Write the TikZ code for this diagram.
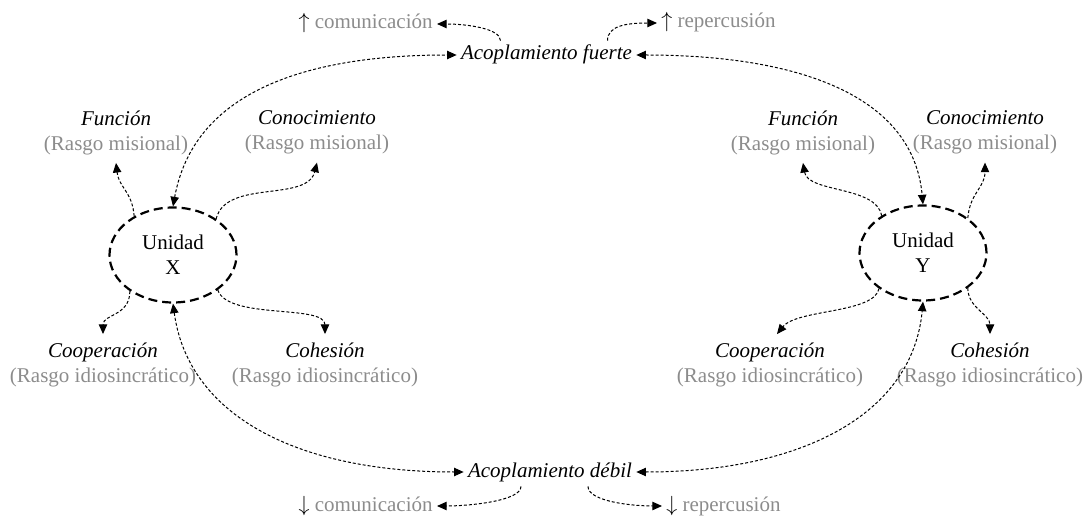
\documentclass[tikz,border=0pt]{standalone}
\usepackage{fontspec}
\setmainfont{Liberation Serif}
\usetikzlibrary{shapes.geometric,arrows.meta}
\definecolor{txtgray}{RGB}{140,140,140}
\begin{document}
\begin{tikzpicture}[x=0.5pt,y=-0.5pt,
  font=\fontsize{10.5}{12.5}\selectfont,
  conn/.style={line width=0.5pt, dash pattern=on 1.5pt off 1pt, -{Triangle[length=4.8pt,width=4.2pt]}},
  both/.style={line width=0.5pt, dash pattern=on 1.5pt off 1pt, {Triangle[length=4.8pt,width=4.2pt]}-{Triangle[length=4.8pt,width=4.2pt]}},
  unit/.style={ellipse, draw, line width=1.1pt, dash pattern=on 4.5pt off 2.5pt, minimum width=63.5pt, minimum height=47.5pt, inner sep=0pt, align=center},
  trait/.style={align=center, inner sep=4pt},
  lbl/.style={inner sep=2pt, text height=0.75em, text depth=0.25em}]
\useasboundingbox (0,0) rectangle (1087,518);

% units
\node[unit] (X) at (173,255) {Unidad\\X};
\node[unit] (Y) at (923,253) {Unidad\\Y};

% coupling labels
\node[lbl] (fu) at (546.5,55) {\textit{Acoplamiento fuerte}};
\node[lbl] (de) at (550,472) {\textit{Acoplamiento débil}};
\node[lbl,anchor=east] (uc) at (437,24) {$\uparrow$ \textcolor{txtgray}{comunicación}};
\node[lbl,anchor=west] (ur) at (657,23) {$\uparrow$ \textcolor{txtgray}{repercusión}};
\node[lbl,anchor=east] (dc) at (437,506) {$\downarrow$ \textcolor{txtgray}{comunicación}};
\node[lbl,anchor=west] (dr) at (662,506) {$\downarrow$ \textcolor{txtgray}{repercusión}};

% traits X
\node[trait] (xf) at (116,132.5) {\textit{Función}\\\textcolor{txtgray}{(Rasgo misional)}};
\node[trait] (xk) at (317,132.5) {\textit{Conocimiento}\\\textcolor{txtgray}{(Rasgo misional)}};
\node[trait] (xo) at (103,364.5) {\textit{Cooperación}\\\textcolor{txtgray}{(Rasgo idiosincrático)}};
\node[trait] (xh) at (325,364.5) {\textit{Cohesión}\\\textcolor{txtgray}{(Rasgo idiosincrático)}};
% traits Y
\node[trait] (yf) at (803,132.5) {\textit{Función}\\\textcolor{txtgray}{(Rasgo misional)}};
\node[trait] (yk) at (985,132.5) {\textit{Conocimiento}\\\textcolor{txtgray}{(Rasgo misional)}};
\node[trait] (yo) at (770,364.5) {\textit{Cooperación}\\\textcolor{txtgray}{(Rasgo idiosincrático)}};
\node[trait] (yh) at (990,364.5) {\textit{Cohesión}\\\textcolor{txtgray}{(Rasgo idiosincrático)}};

% X connectors
\draw[conn] (X.135) .. controls +(-2,-25) and +(3,25) .. (xf.south);
\draw[conn] (X.40) .. controls +(10,-40) and +(-10,40) .. (xk.south);
\draw[conn] (X.220) .. controls +(0,25) and +(0,-20) .. (xo.north);
\draw[conn] (X.-38) .. controls +(10,30) and +(0,-30) .. (xh.north);
% Y connectors
\draw[conn] (Y.138) .. controls +(-5,-30) and +(5,30) .. (yf.south);
\draw[conn] (Y.38) .. controls +(2,-25) and +(0,25) .. (yk.south);
\draw[conn] (Y.219) .. controls +(-5,25) and +(20,-25) .. ([xshift=3.5pt]yo.north);
\draw[conn] (Y.-38) .. controls +(0,20) and +(0,-20) .. (yh.north);

% coupling connectors
\draw[both] (X.north) .. controls +(20,-110) and +(-160,0) .. (fu.west);
\draw[both] (X.south) .. controls +(15,110) and +(-170,0) .. (de.west);
\draw[both] (fu.east) .. controls +(160,0) and +(-10,-110) .. (Y.north);
\draw[both] (de.east) .. controls +(170,0) and +(-10,110) .. (Y.south);

% consequence stubs
\draw[conn] ([xshift=-23pt]fu.north) .. controls +(0,-12) and +(30,0) .. (uc.east);
\draw[conn] ([xshift=30.5pt]fu.north) .. controls +(0,-15) and +(-30,0) .. (ur.west);
\draw[conn] ([xshift=-14.5pt]de.south) .. controls +(0,15) and +(30,0) .. (dc.east);
\draw[conn] ([xshift=19pt]de.south) .. controls +(0,15) and +(-30,0) .. (dr.west);
\end{tikzpicture}
\end{document}
